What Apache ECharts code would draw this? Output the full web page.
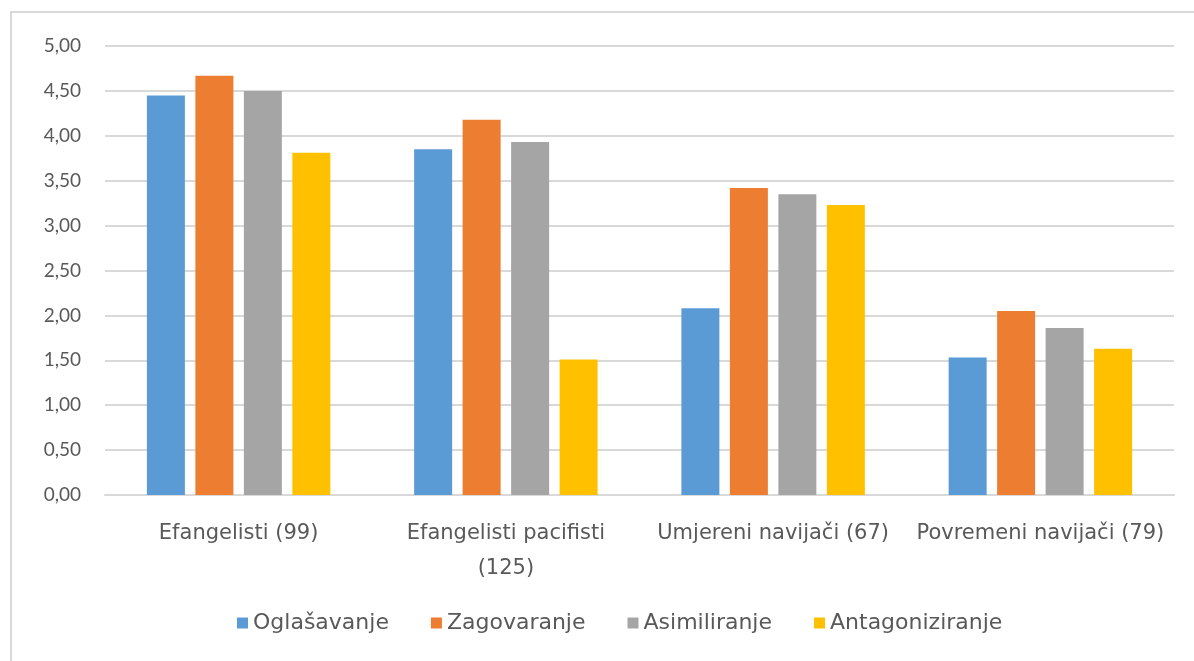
<!DOCTYPE html>
<html>
<head>
<meta charset="utf-8">
<script src="https://cdn.jsdelivr.net/npm/echarts@6/dist/echarts.min.js"></script>
<style>
  html, body { margin: 0; padding: 0; background: #fff; }
  #frame { position: absolute; left: 10px; top: 11px; width: 1200px; height: 670px;
           border-left: 2px solid #d9d9d9; border-top: 2px solid #d9d9d9; }
  #main { position: absolute; left: 0; top: 0; width: 1194px; height: 661px; }
</style>
</head>
<body>
<div id="frame"></div>
<div id="main"></div>
<script>
// kategorije i vrijednosti
var categories = ['Efangelisti (99)', 'Efangelisti pacifisti\n(125)', 'Umjereni navijači (67)', 'Povremeni navijači (79)'];
var oglasavanje = [4.45, 3.85, 2.08, 1.53];
var zagovaranje = [4.67, 4.18, 3.42, 2.05];
var asimiliranje = [4.50, 3.93, 3.35, 1.86];
var antagoniziranje = [3.81, 1.51, 3.23, 1.63];
var colors = ['#5b9bd5', '#ed7d31', '#a5a5a5', '#ffc000'];
var labelFont = 'DejaVu Sans';

echarts.init(document.getElementById('main')).setOption({
  color: colors,
  animation: false,
  legend: {
    bottom: 22,
    left: 232,
    itemWidth: 11,
    itemHeight: 11,
    itemGap: 42,
    icon: 'rect',
    textStyle: { fontSize: 22, color: '#595959', fontFamily: labelFont },
    data: ['Oglašavanje', 'Zagovaranje', 'Asimiliranje', 'Antagoniziranje']
  },
  grid: { left: 105, right: 20, top: 46, bottom: 166 },
  xAxis: {
    type: 'category',
    data: categories,
    axisLine: { lineStyle: { color: '#d9d9d9', width: 2 } },
    axisTick: { show: false },
    axisLabel: { fontSize: 21, fontFamily: labelFont, color: '#595959', margin: 21, lineHeight: 35, interval: 0 }
  },
  yAxis: {
    type: 'value',
    min: 0,
    max: 5,
    interval: 0.5,
    axisLabel: {
      fontSize: 19, fontFamily: 'Lato', color: '#595959', margin: 24,
      formatter: function (v) { return v.toFixed(2).replace('.', ','); }
    },
    splitLine: { lineStyle: { color: '#d9d9d9', width: 2 } }
  },
  series: [
    { type: 'bar', name: 'Oglašavanje', data: oglasavanje, barWidth: 38, barGap: '27.6%' },
    { type: 'bar', name: 'Zagovaranje', data: zagovaranje, barWidth: 38, barGap: '27.6%' },
    { type: 'bar', name: 'Asimiliranje', data: asimiliranje, barWidth: 38, barGap: '27.6%' },
    { type: 'bar', name: 'Antagoniziranje', data: antagoniziranje, barWidth: 38, barGap: '27.6%' }
  ]
});
</script>
</body>
</html>
